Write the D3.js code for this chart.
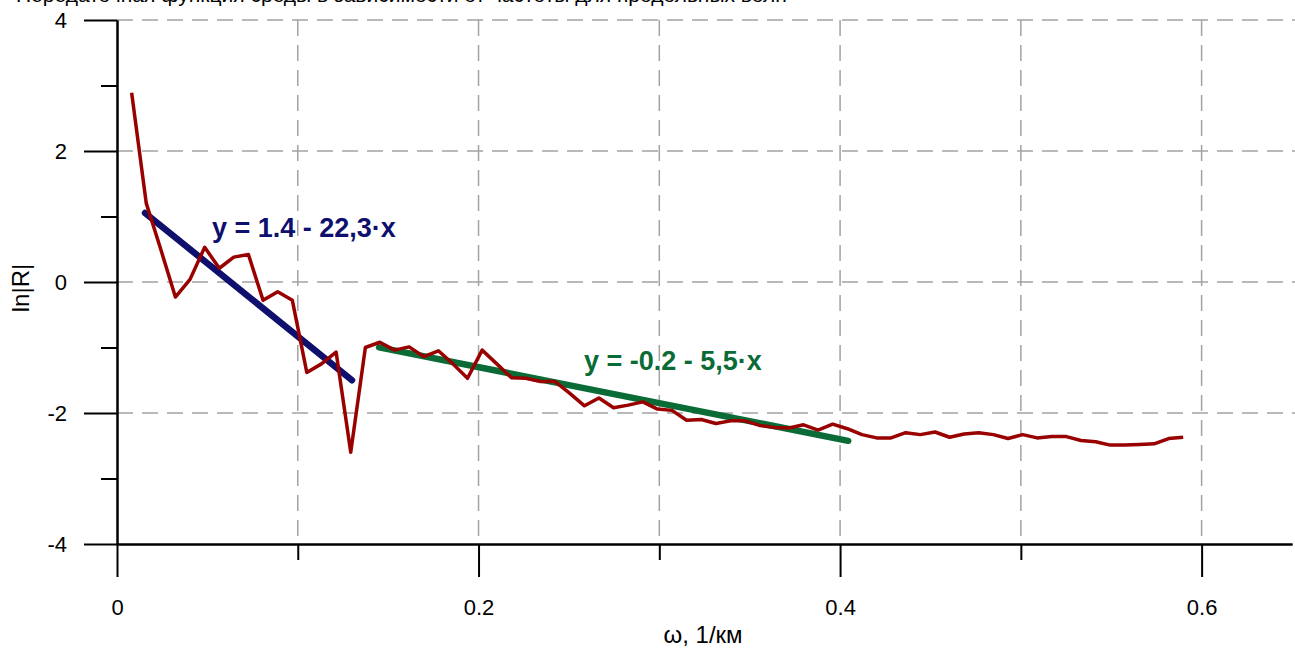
<!DOCTYPE html>
<html>
<head>
<meta charset="utf-8">
<script src="https://cdn.jsdelivr.net/npm/d3@7"></script>
<style>
  html, body { margin: 0; padding: 0; background: #ffffff; }
  svg { display: block; font-family: "Liberation Sans", Arial, sans-serif; }
</style>
</head>
<body>
<svg id="chart" width="1295" height="649"></svg>
<script>
// ---- data ----
const omega = [0.0081,0.0162,0.0242,0.0323,0.0404,0.0485,0.0566,0.0646,0.0727,0.0808,
  0.0889,0.0970,0.1050,0.1131,0.1212,0.1293,0.1374,0.1454,0.1535,0.1616,
  0.1697,0.1778,0.1858,0.1939,0.2020,0.2101,0.2182,0.2262,0.2343,0.2424,
  0.2505,0.2586,0.2666,0.2747,0.2828,0.2909,0.2990,0.3070,0.3151,0.3232,
  0.3313,0.3394,0.3474,0.3555,0.3636,0.3717,0.3798,0.3878,0.3959,0.4040,
  0.4121,0.4202,0.4282,0.4363,0.4444,0.4525,0.4606,0.4686,0.4767,0.4848,
  0.4929,0.5010,0.5090,0.5171,0.5252,0.5333,0.5414,0.5494,0.5575,0.5656,
  0.5737,0.5818,0.5898];
const lnR = [2.89,1.20,0.50,-0.23,0.04,0.53,0.21,0.38,0.42,-0.28,
  -0.15,-0.28,-1.38,-1.25,-1.07,-2.60,-1.00,-0.92,-1.04,-0.99,
  -1.14,-1.05,-1.25,-1.47,-1.04,-1.25,-1.46,-1.47,-1.52,-1.52,
  -1.70,-1.89,-1.77,-1.92,-1.88,-1.83,-1.94,-1.96,-2.11,-2.10,
  -2.16,-2.12,-2.12,-2.19,-2.22,-2.23,-2.18,-2.26,-2.17,-2.24,
  -2.33,-2.38,-2.38,-2.30,-2.33,-2.29,-2.37,-2.32,-2.30,-2.33,
  -2.39,-2.33,-2.38,-2.36,-2.36,-2.42,-2.44,-2.49,-2.49,-2.48,
  -2.47,-2.39,-2.37];

// fitted lines: [intercept, slope], x-extent
const fit1Coef = [1.4, -22.3];
const fit1Range = [0.0155, 0.130];
const fit1Label = "y = 1.4 - 22,3·x";
const fit2Coef = [-0.2, -5.5];
const fit2Range = [0.145, 0.4045];
const fit2Label = "y = -0.2 - 5,5·x";

const xMajor = [0, 0.2, 0.4, 0.6];
const xMinor = [0.1, 0.3, 0.5];
const xGrid = [0.1, 0.2, 0.3, 0.4, 0.5, 0.6];
const yMajor = [-4, -2, 0, 2, 4];
const yMinor = [-3, -1, 1, 3];
const yGrid = [-2, 0, 2, 4];
const xTitle = "ω, 1/км";
const yTitle = "ln|R|";
const topTitle = "Передаточная функция среды в зависимости от частоты для продольных волн";

// ---- drawing ----
const svg = d3.select("#chart");
const x = d3.scaleLinear().domain([0, 0.65]).range([117, 1292]);
const y = d3.scaleLinear().domain([-4, 4]).range([544, 20]);

svg.append("rect").attr("width", 1295).attr("height", 649).attr("fill", "#ffffff");

// title, cut off at the top edge as in the source picture
svg.append("text").attr("x", 16).attr("y", 2)
  .attr("font-size", 21).attr("fill", "#000").text(topTitle);

// grid
const grid = svg.append("g").attr("stroke", "#a3a3a3").attr("stroke-width", 1.5)
  .attr("stroke-dasharray", "16,9");
grid.selectAll("line.v").data(xGrid).join("line").attr("class", "v")
  .attr("x1", d => x(d)).attr("x2", d => x(d)).attr("y1", y(4)).attr("y2", y(-4));
grid.selectAll("line.h").data(yGrid).join("line").attr("class", "h")
  .attr("x1", x(0)).attr("x2", 1295).attr("y1", d => y(d)).attr("y2", d => y(d));

// axes
const fmtX = d => d === 0 ? "0" : d3.format(".1f")(d);
const fmtY = d => String(d);
const xAxisMajor = d3.axisBottom(x).tickValues(xMajor).tickSize(33).tickSizeOuter(0)
  .tickPadding(22).tickFormat(fmtX);
const xAxisMinor = d3.axisBottom(x).tickValues(xMinor).tickSize(16).tickSizeOuter(0)
  .tickFormat("");
const yAxisMajor = d3.axisLeft(y).tickValues(yMajor).tickSize(33).tickSizeOuter(0)
  .tickPadding(17).tickFormat(fmtY);
const yAxisMinor = d3.axisLeft(y).tickValues(yMinor).tickSize(16).tickSizeOuter(0)
  .tickFormat("");

function styleAxis(g) {
  g.selectAll("path.domain").attr("stroke", "#000").attr("stroke-width", 2);
  g.selectAll(".tick line").attr("stroke", "#000").attr("stroke-width", 2);
  g.selectAll(".tick text").attr("fill", "#000").attr("font-size", 22)
    .attr("font-family", "'Liberation Sans', Arial, sans-serif");
}
svg.append("g").attr("transform", `translate(0,${y(-4)})`).call(xAxisMinor).call(styleAxis);
svg.append("g").attr("transform", `translate(0,${y(-4)})`).call(xAxisMajor).call(styleAxis);
svg.append("g").attr("transform", `translate(${x(0)},0)`).call(yAxisMinor).call(styleAxis);
svg.append("g").attr("transform", `translate(${x(0)},0)`).call(yAxisMajor).call(styleAxis);

// axis titles
svg.append("text").attr("x", 703).attr("y", 643).attr("text-anchor", "middle")
  .attr("font-size", 24).attr("fill", "#000").text(xTitle);
svg.append("text").attr("transform", `translate(29,${y(0) + 6}) rotate(-90)`)
  .attr("text-anchor", "middle").attr("font-size", 24).attr("fill", "#000").text(yTitle);

// fitted lines
const line = d3.line().x(d => x(d[0])).y(d => y(d[1]));
function fitPts(coef, range) { return range.map(v => [v, coef[0] + coef[1] * v]); }
svg.append("path").datum(fitPts(fit1Coef, fit1Range)).attr("d", line)
  .attr("fill", "none").attr("stroke", "#0f0f6e").attr("stroke-width", 6.5)
  .attr("stroke-linecap", "round");
svg.append("path").datum(fitPts(fit2Coef, fit2Range)).attr("d", line)
  .attr("fill", "none").attr("stroke", "#0b6b36").attr("stroke-width", 6.5)
  .attr("stroke-linecap", "round");

// data curve
const pts = omega.map((w, i) => [w, lnR[i]]);
svg.append("path").datum(pts).attr("d", line)
  .attr("fill", "none").attr("stroke", "#990000").attr("stroke-width", 3.5)
  .attr("stroke-linejoin", "round");

// labels of fits
svg.append("text").attr("x", 212).attr("y", 237)
  .attr("font-size", 27).attr("font-weight", "bold").attr("fill", "#0f0f6e").text(fit1Label);
svg.append("text").attr("x", 584).attr("y", 370)
  .attr("font-size", 27).attr("font-weight", "bold").attr("fill", "#0b6b36").text(fit2Label);
</script>
</body>
</html>
